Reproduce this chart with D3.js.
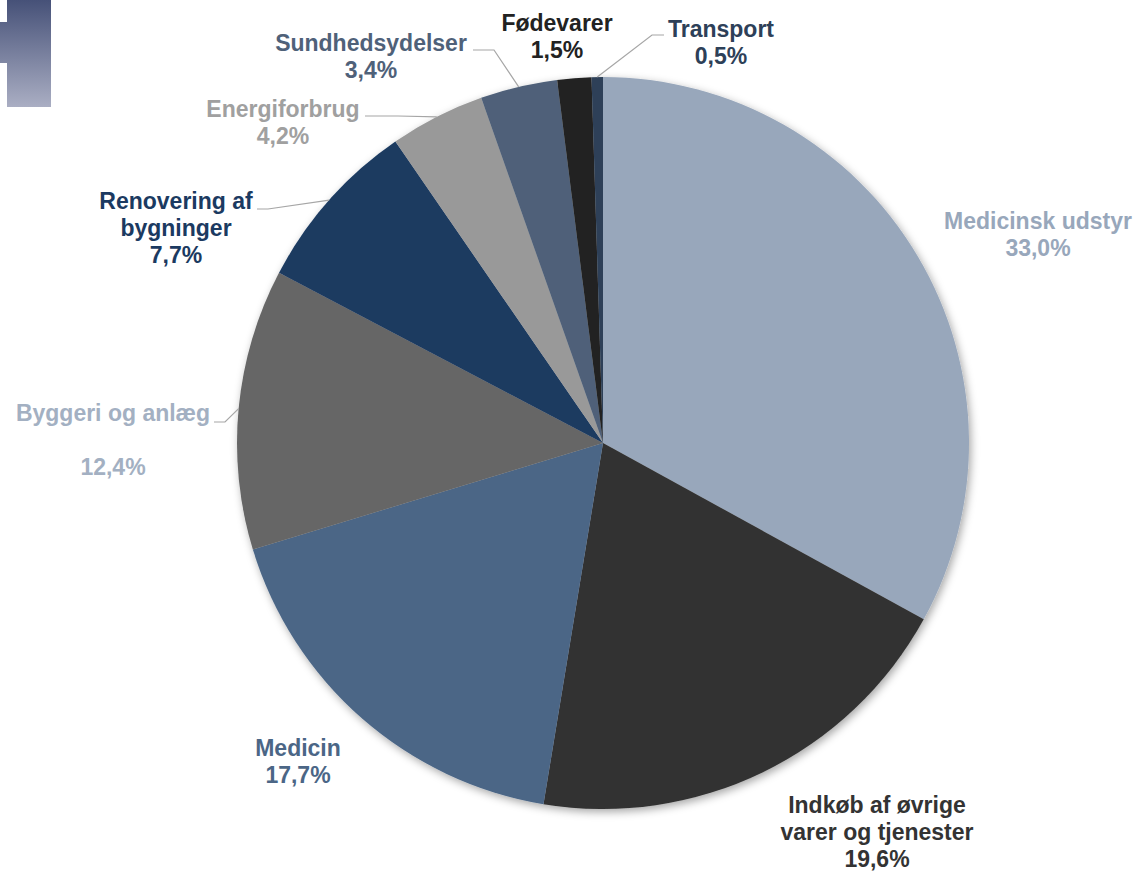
<!DOCTYPE html>
<html>
<head>
<meta charset="utf-8">
<script src="https://cdn.jsdelivr.net/npm/d3@7"></script>
<style>
  html, body { margin: 0; padding: 0; background: #ffffff; }
  svg { display: block; }
  text { font-family: "Liberation Sans", Arial, sans-serif; font-weight: bold; }
</style>
</head>
<body>
<svg id="chart" width="1139" height="871"></svg>
<script>
// ---- data ----
const categories = ["Medicinsk udstyr", "Indkøb af øvrige varer og tjenester", "Medicin",
  "Byggeri og anlæg", "Renovering af bygninger", "Energiforbrug", "Sundhedsydelser",
  "Fødevarer", "Transport"];
const labelLines = [["Medicinsk udstyr"], ["Indkøb af øvrige", "varer og tjenester"], ["Medicin"],
  ["Byggeri og anlæg", ""], ["Renovering af", "bygninger"], ["Energiforbrug"], ["Sundhedsydelser"],
  ["Fødevarer"], ["Transport"]];
const values = [33.0, 19.6, 17.7, 12.4, 7.7, 4.2, 3.4, 1.5, 0.5];
const sliceColors = ["#98a7bb", "#333333", "#4b6686", "#666666", "#1b3a61", "#999999", "#4f6179", "#222222", "#2d4058"];
const labelColors = ["#98a7bb", "#333333", "#4b6686", "#a3b0c2", "#1b3a61", "#a0a0a0", "#4f6179", "#222222", "#2d4058"];

// ---- layout (label anchor = centre x, first baseline y; leader start points) ----
const labelAnchor = [[1038, 229], [877, 813], [298, 756], [113, 421], [176, 209], [283, 117], [371, 51], [557, 31], [721, 37]];
const leaderStart = [null, null, null, [[214, 422], [225, 422]], [[257, 209], [268, 209]],
  [[365, 116], [398, 116]], [[473, 50], [494, 50]], null, [[664, 35], [652, 35]]];

const svg = d3.select("#chart");
const cx = 603, cy = 443, R = 366;
const lineH = 27;

// logo fragment top-left
const defs = svg.append("defs");
const lg = defs.append("linearGradient").attr("id", "logoGrad").attr("x1", 0).attr("y1", 0).attr("x2", 0).attr("y2", 1);
lg.append("stop").attr("offset", "0%").attr("stop-color", "#465178");
lg.append("stop").attr("offset", "100%").attr("stop-color", "#aaaec3");
svg.append("path")
  .attr("d", "M7,0 H51 V107 H7 V63 H0 V22 H7 Z")
  .attr("fill", "url(#logoGrad)");

const filt = defs.append("filter").attr("id", "shadow").attr("x", "-10%").attr("y", "-10%").attr("width", "120%").attr("height", "120%");
filt.append("feDropShadow").attr("dx", 2).attr("dy", 3).attr("stdDeviation", 4)
  .attr("flood-color", "#000").attr("flood-opacity", 0.35);

const pie = d3.pie().sort(null).value(d => d)(values);
const arc = d3.arc().innerRadius(0).outerRadius(R);

const g = svg.append("g").attr("transform", `translate(${cx},${cy})`);
const gs = g.append("g").attr("filter", "url(#shadow)");
gs.selectAll("path.slice").data(pie).join("path")
  .attr("class", "slice")
  .attr("d", arc)
  .attr("fill", (d, i) => sliceColors[i]);

const fmt = v => d3.format(".1f")(v).replace(".", ",") + "%";

// leader lines
pie.forEach((d, i) => {
  if (!leaderStart[i]) return;
  const a = (d.startAngle + d.endAngle) / 2;
  const end = [cx + R * Math.sin(a), cy - R * Math.cos(a)];
  const pts = leaderStart[i].concat([end]);
  svg.append("polyline")
    .attr("points", pts.map(p => p.join(",")).join(" "))
    .attr("fill", "none").attr("stroke", "#a6a6a6").attr("stroke-width", 1.2);
});

// labels
pie.forEach((d, i) => {
  const lines = labelLines[i].concat([fmt(values[i])]);
  const t = svg.append("text")
    .attr("text-anchor", "middle")
    .attr("font-size", 23)
    .attr("fill", labelColors[i]);
  lines.forEach((ln, j) => {
    t.append("tspan")
      .attr("x", labelAnchor[i][0])
      .attr("y", labelAnchor[i][1] + j * lineH)
      .text(ln);
  });
});
</script>
</body>
</html>
